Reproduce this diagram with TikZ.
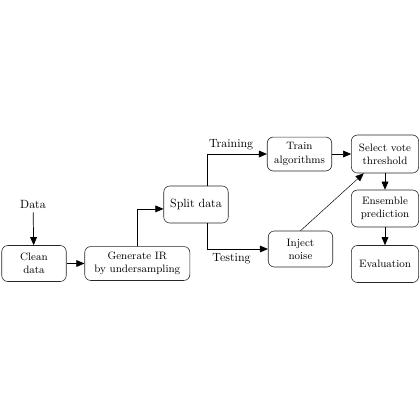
\documentclass[tikz,border=0pt]{standalone}
\usetikzlibrary{arrows.meta, positioning}

\begin{document}
\begin{tikzpicture}[
  x=0.295mm, y=-0.295mm,
  >={Triangle[length=2.4mm, width=2mm]},
  caja/.style={rounded corners=5pt, draw=black!85, line width=0.5pt, align=center,
    font=\small, minimum width=19mm, minimum height=10.6mm, inner sep=2pt},
  ancha/.style={caja, minimum width=31mm, minimum height=10mm},
  columna/.style={caja, minimum width=19.8mm, minimum height=10.9mm},
  flecha/.style={->, line width=0.6pt},
]
\useasboundingbox (0,0) rectangle (420,420);

% --- Entrada y preparacion ---
\node (data) at (33,204) {Data};
\node[caja] (clean) at (34,263.5) {Clean\\ data};
\node[ancha, right=5.3mm of clean] (gen) {Generate IR\\ by undersampling};
\node[caja, font=\normalsize, minimum height=10.9mm] (split) at (196,204.5) {Split data};

% --- Ramas ---
\node[caja, minimum height=10mm] (train) at (299.5,154) {Train\\ algorithms};
\node[caja] (inject) at (300.5,249) {Inject\\ noise};

% --- Columna derecha ---
\node[columna, minimum height=11.2mm] (select) at (385,154) {Select vote\\ threshold};
\node[columna] (ens) at (385,208.5) {Ensemble\\ prediction};
\node[columna] (eval) at (385,264) {Evaluation};

\draw[flecha] (data) -- (clean);
\draw[flecha] (clean) -- (gen);
\draw[flecha] (gen.north) |- ([yshift=-1.3mm]split.west);
\draw[flecha] ([xshift=3.3mm]split.north) |- node[above, pos=0.7] {Training} (train.west);
\draw[flecha] ([xshift=3.3mm]split.south) |- node[below, pos=0.7] {Testing} (inject.west);
\draw[flecha] (train) -- (select);
\draw[->, line width=0.4pt] (inject.north) -- (select);
\draw[flecha] (select) -- (ens);
\draw[flecha] (ens) -- (eval);

\end{tikzpicture}
\end{document}
